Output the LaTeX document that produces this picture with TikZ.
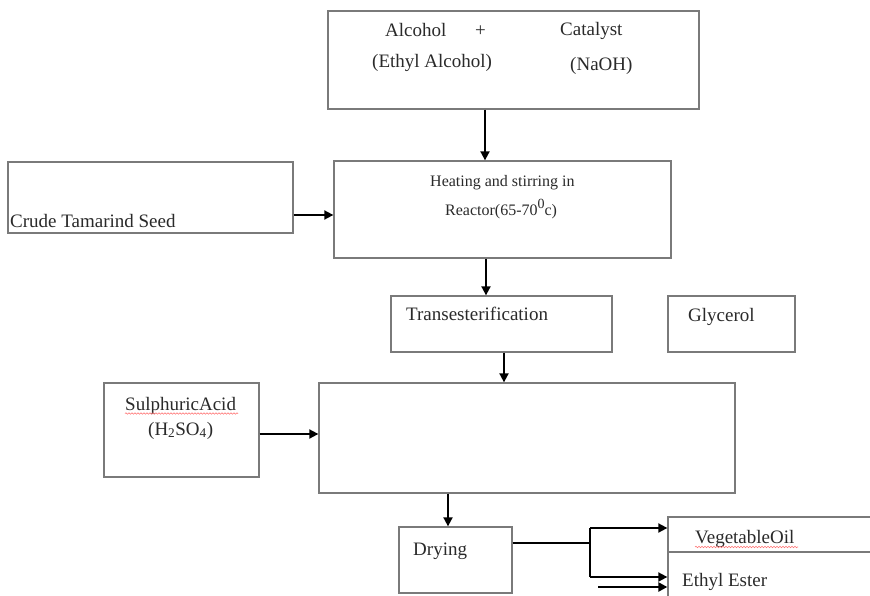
\documentclass[tikz,border=0pt]{standalone}
\usepackage{fontspec}
\setmainfont{Liberation Serif}
\usetikzlibrary{arrows.meta,decorations.pathmorphing}
\definecolor{boxgray}{HTML}{7A7A7A}
\definecolor{txt}{HTML}{2A2A2A}
\tikzset{
  box/.style={draw=boxgray, line width=1.3pt, fill=none, inner sep=0pt},
  lbl/.style={anchor=base west, inner sep=0pt, text=txt, font=\fontsize{19}{22}\selectfont},
  slbl/.style={anchor=base west, inner sep=0pt, text=txt, font=\fontsize{16}{19}\selectfont},
  arr/.style={draw=black, line width=1.8pt, -{Triangle[length=9pt,width=9pt]}},
  ln/.style={draw=black, line width=1.9pt},
  squig/.style={draw=red!55, line width=0.6pt, decorate, decoration={snake, amplitude=0.7pt, segment length=3pt}}
}
\begin{document}
\begin{tikzpicture}[x=1pt,y=-1pt]
\useasboundingbox (0,0) rectangle (870,596);
\clip (0,0) rectangle (870,596);
\fill[white] (0,0) rectangle (870,596);

% boxes
\node[box, minimum width=371pt, minimum height=98pt] (top) at (513.5,60) {};
\node[box, minimum width=337pt, minimum height=97pt] (reactor) at (502.5,209.5) {};
\node[box, minimum width=285pt, minimum height=71pt] (crude) at (150.5,197.5) {};
\node[box, minimum width=221pt, minimum height=56pt] (trans) at (501.5,324) {};
\node[box, minimum width=127pt, minimum height=56pt] (glyc) at (731.5,324) {};
\node[box, minimum width=416pt, minimum height=110pt] (big) at (527,438) {};
\node[box, minimum width=155pt, minimum height=94pt] (sulph) at (181.5,430) {};
\node[box, minimum width=113pt, minimum height=66pt] (drying) at (455.5,560) {};
\node[box, minimum width=232pt, minimum height=35pt] (veg) at (784,534.5) {};
\node[box, minimum width=232pt, minimum height=68pt] (ethyl) at (784,586) {};

% texts
\node[lbl] (t1) at (385,37) {Alcohol};
\node[lbl] (t2) at (475,37) {+};
\node[lbl] (t3) at (560,36) {Catalyst};
\node[lbl] (t4) at (372,68) {(Ethyl Alcohol)};
\node[lbl] (t5) at (570,71) {(NaOH)};
\node[slbl] (t6) at (430,187) {Heating and stirring in};
\node[slbl] (t7) at (445,215) {Reactor(65-70\raisebox{6pt}{\fontsize{14}{14}\selectfont 0}c)};
\node[lbl] (t8) at (10,228) {Crude Tamarind Seed};
\node[lbl] (t9) at (406,320) {Transesterification};
\node[lbl] (t10) at (688,321) {Glycerol};
\node[lbl] (t11) at (125,410) {SulphuricAcid};
\node[lbl] (t12) at (148,435) {(H\textsubscript{2}SO\textsubscript{4})};
\node[lbl] (t13) at (413,555) {Drying};
\node[lbl] (t14) at (695,543) {VegetableOil};
\node[lbl] (t15) at (682,586) {Ethyl Ester};

% spell-check squiggles
\draw[squig] (t11.base west) ++(0,3.5) -- ++(113,0);
\draw[squig] (t14.base west) ++(0,4) -- ++(103,0);

% connectors
\draw[arr] (top.south -| 485,0) -- (reactor.north -| 485,0);
\draw[arr] (crude.east |- 0,215) -- (reactor.west |- 0,215);
\draw[arr] (reactor.south -| 486,0) -- (trans.north -| 486,0);
\draw[arr] (trans.south -| 504,0) -- (big.north -| 504,0);
\draw[arr] (sulph.east |- 0,434) -- (big.west |- 0,434);
\draw[arr] (big.south -| 448,0) -- (drying.north -| 448,0);

\coordinate (sp) at (590,543);
\coordinate (su) at (590,528);
\coordinate (sd) at (590,577);
\coordinate (ex) at (598,587);
\draw[ln, line width=2.4pt] (drying.east |- sp) -- (sp);
\draw[ln] (su) -- (sd);
\draw[arr] (su) -- (veg.west |- su);
\draw[arr] (sd) -- (ethyl.west |- sd);
\draw[arr, line width=2.8pt] (ex) -- (ethyl.west |- ex);
\end{tikzpicture}
\end{document}
